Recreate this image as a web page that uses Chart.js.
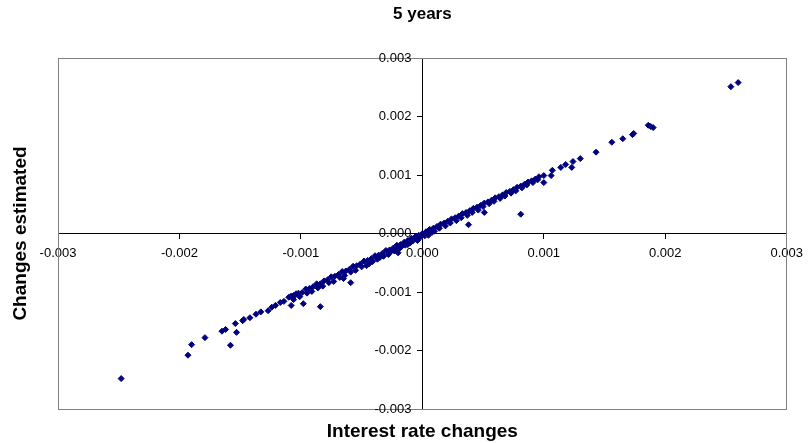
<!DOCTYPE html>
<html>
<head>
<meta charset="utf-8">
<script src="https://cdn.jsdelivr.net/npm/chart.js@4"></script>
<style>
  html, body { margin: 0; padding: 0; background: #fff; }
  #wrap { width: 810px; height: 443px; }
</style>
</head>
<body>
<div id="wrap"><canvas id="scatter" width="810" height="443"></canvas></div>
<script>
var chartTitle = '5 years'
var xTitle = 'Interest rate changes'
var yTitle = 'Changes estimated'
var axisMin = -0.003, axisMax = 0.003, axisStep = 0.001

// [interest rate change, change estimated]
var lowerTail = [
  [-0.00248,-0.00248],[-0.00193,-0.00208],[-0.00190,-0.00190],[-0.00179,-0.00178],
  [-0.00165,-0.00167],[-0.00162,-0.00164],[-0.00158,-0.00191],[-0.00154,-0.00154],
  [-0.00153,-0.00169],[-0.00148,-0.00149],[-0.00147,-0.00147],[-0.00142,-0.00144],
  [-0.00137,-0.00138],[-0.00127,-0.00132],[-0.00124,-0.00126],[-0.00121,-0.00123],
  [-0.00117,-0.00118],[-0.00110,-0.00109],[-0.00108,-0.00123],[-0.00106,-0.00106],
  [-0.00104,-0.00103],[-0.00098,-0.00120],[-0.00084,-0.00125],[-0.00059,-0.00084],
  [-0.00065,-0.00077],[-0.00020,-0.00033],[-0.00133,-0.00134],[-0.00114,-0.00116]
]
var bandNegUpper = [
  [-0.00108,-0.00107],[-0.00105,-0.00106],[-0.00102,-0.00102],[-0.00099,-0.00101],
  [-0.00096,-0.00095],[-0.00093,-0.00094],[-0.00090,-0.00091],[-0.00087,-0.00086],
  [-0.00084,-0.00086],[-0.00081,-0.00081],[-0.00078,-0.00079],[-0.00075,-0.00074],
  [-0.00072,-0.00073],[-0.00069,-0.00070],[-0.00066,-0.00065],[-0.00063,-0.00064],
  [-0.00060,-0.00061],[-0.00057,-0.00056],[-0.00054,-0.00055],[-0.00051,-0.00052],
  [-0.00048,-0.00047],[-0.00045,-0.00046],[-0.00042,-0.00043],[-0.00039,-0.00038],
  [-0.00036,-0.00037],[-0.00033,-0.00034],[-0.00030,-0.00029],[-0.00027,-0.00028],
  [-0.00024,-0.00025],[-0.00021,-0.00020],[-0.00018,-0.00019],[-0.00015,-0.00015],
  [-0.00012,-0.00012],[-0.00009,-0.00008],[-0.00006,-0.00006],[-0.00003,-0.00003],
  [0.00000,0.00000]
]
var bandNegLower = [
  [-0.00106,-0.00113],[-0.00101,-0.00108],[-0.00095,-0.00102],[-0.00091,-0.00099],
  [-0.00086,-0.00093],[-0.00082,-0.00090],[-0.00077,-0.00084],[-0.00073,-0.00082],
  [-0.00068,-0.00075],[-0.00064,-0.00072],[-0.00059,-0.00066],[-0.00055,-0.00063],
  [-0.00050,-0.00057],[-0.00046,-0.00055],[-0.00041,-0.00048],[-0.00037,-0.00044],
  [-0.00032,-0.00039],[-0.00028,-0.00036],[-0.00023,-0.00030],[-0.00019,-0.00026],
  [-0.00014,-0.00020],[-0.00010,-0.00016],[-0.00005,-0.00010],[-0.00002,-0.00007],
  [-0.00035,-0.00041],[-0.00026,-0.00031],[-0.00017,-0.00022],[-0.00008,-0.00013],
  [0.00002,-0.00004],[0.00008,0.00002],[-0.00044,-0.00052],[-0.00021,-0.00028],
  [-0.00012,-0.00019],[-0.00004,-0.00012],[0.00005,-0.00003]
]
var bandPosUpper = [
  [0.00003,0.00003],[0.00006,0.00007],[0.00009,0.00009],[0.00012,0.00012],
  [0.00015,0.00016],[0.00018,0.00018],[0.00021,0.00021],[0.00024,0.00025],
  [0.00027,0.00027],[0.00030,0.00030],[0.00033,0.00034],[0.00036,0.00036],
  [0.00039,0.00039],[0.00042,0.00043],[0.00045,0.00045],[0.00048,0.00048],
  [0.00051,0.00052],[0.00054,0.00054],[0.00057,0.00057],[0.00060,0.00061],
  [0.00063,0.00063],[0.00066,0.00066],[0.00069,0.00070],[0.00072,0.00072],
  [0.00075,0.00075],[0.00078,0.00079],[0.00081,0.00081],[0.00084,0.00084],
  [0.00087,0.00088],[0.00090,0.00090],[0.00093,0.00093],[0.00096,0.00097]
]
var bandPosLower = [
  [0.00005,0.00000],[0.00010,0.00004],[0.00014,0.00009],[0.00019,0.00013],
  [0.00023,0.00018],[0.00028,0.00022],[0.00032,0.00027],[0.00037,0.00031],
  [0.00041,0.00036],[0.00046,0.00040],[0.00050,0.00046],[0.00055,0.00051],
  [0.00059,0.00055],[0.00064,0.00060],[0.00068,0.00064],[0.00073,0.00069],
  [0.00077,0.00073],[0.00082,0.00078],[0.00086,0.00083],[0.00091,0.00087],
  [0.00095,0.00092]
]
var upperTail = [
  [0.00038,0.00015],[0.00051,0.00036],[0.00081,0.00033],[0.00100,0.00087],
  [0.00100,0.00099],[0.00106,0.00099],[0.00107,0.00108],[0.00114,0.00113],
  [0.00118,0.00118],[0.00123,0.00113],[0.00124,0.00123],[0.00130,0.00128],
  [0.00143,0.00139],[0.00156,0.00156],[0.00165,0.00162],[0.00173,0.00169],
  [0.00174,0.00171],[0.00186,0.00185],[0.00188,0.00183],[0.00190,0.00181],
  [0.00254,0.00251],[0.00260,0.00258]
]

var allPoints = [].concat(lowerTail, bandNegLower, bandNegUpper, bandPosLower, bandPosUpper, upperTail)
  .map(function(p){ return {x: p[0], y: p[1]} })

var fontFamily = "'Liberation Sans', Arial, sans-serif"

function fmt(v){
  if (Math.abs(v) < 1e-9) return '0.000'
  return v.toFixed(3)
}

// plot frame, y tick labels (left of the centred axis) and the titles
var framePlugin = {
  id: 'frame',
  beforeDatasetsDraw: function(chart){
    var a = chart.chartArea, ctx = chart.ctx
    ctx.save()
    ctx.strokeStyle = '#808080'
    ctx.lineWidth = 1
    ctx.strokeRect(Math.round(a.left) + 0.5, Math.round(a.top) + 0.5,
      Math.round(a.right - a.left) - 1, Math.round(a.bottom - a.top))
    // y labels from the y scale's own ticks
    var ys = chart.scales.y
    var axisX = chart.scales.x.getPixelForValue(0)
    ctx.fillStyle = '#000'
    ctx.font = '13px ' + fontFamily
    ctx.textAlign = 'right'
    ctx.textBaseline = 'middle'
    ys.ticks.forEach(function(t){
      ctx.fillText(fmt(t.value), axisX - 11, ys.getPixelForValue(t.value))
    })
    ctx.restore()
  },
  afterDraw: function(chart){
    var ctx = chart.ctx
    var midX = chart.scales.x.getPixelForValue(0)
    var midY = chart.scales.y.getPixelForValue(0)
    ctx.save()
    ctx.fillStyle = '#000'
    ctx.textAlign = 'center'
    ctx.textBaseline = 'middle'
    ctx.font = 'bold 17px ' + fontFamily
    ctx.fillText(chartTitle, midX, 14)
    ctx.font = 'bold 19px ' + fontFamily
    ctx.fillText(xTitle, midX, 432)
    ctx.translate(21, midY)
    ctx.rotate(-Math.PI / 2)
    ctx.fillText(yTitle, 0, 0)
    ctx.restore()
  }
}

var ctx = document.getElementById('scatter').getContext('2d')
var myChart = new Chart(ctx, {
  type: 'scatter',
  data: {
    datasets: [{
      label: 'Changes estimated',
      data: allPoints,
      pointStyle: 'rectRot',
      pointRadius: 3,
      pointBorderWidth: 1,
      backgroundColor: '#000080',
      borderColor: '#000080'
    }]
  },
  options: {
    responsive: false,
    animation: false,
    events: [],
    layout: { padding: { left: 58, right: 18, top: 58, bottom: 34 } },
    plugins: { legend: { display: false }, tooltip: { enabled: false } },
    scales: {
      x: {
        type: 'linear',
        min: axisMin, max: axisMax,
        position: { y: 0 },
        afterFit: function(s){ s.height = 0 },
        border: { display: true, color: '#000', width: 1 },
        grid: { drawOnChartArea: false, drawTicks: true, tickLength: 5, color: '#000' },
        ticks: {
          stepSize: axisStep, padding: 7, maxRotation: 0, autoSkip: false,
          color: '#000', font: { family: fontFamily, size: 13 },
          callback: function(v){ return fmt(v) }
        }
      },
      y: {
        type: 'linear',
        min: axisMin, max: axisMax,
        position: { x: 0 },
        afterFit: function(s){ s.width = 0 },
        border: { display: true, color: '#000', width: 1 },
        grid: { drawOnChartArea: false, drawTicks: true, tickLength: 5, color: '#000' },
        ticks: { display: false, stepSize: axisStep, autoSkip: false }
      }
    }
  },
  plugins: [framePlugin]
})
</script>
</body>
</html>
